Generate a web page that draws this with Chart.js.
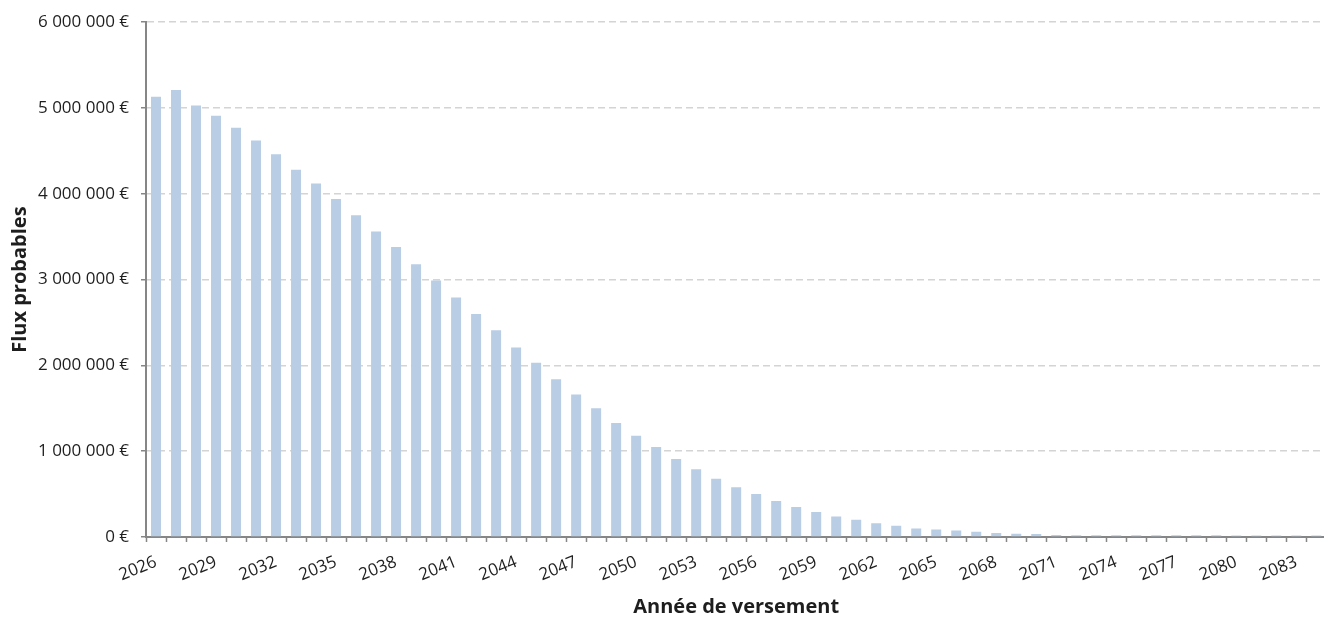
<!DOCTYPE html>
<html><head><meta charset="utf-8">
<script src="https://cdn.jsdelivr.net/npm/chart.js@4"></script>
<style>html,body{margin:0;padding:0;overflow:hidden;background:#fff;width:1324px;height:617px}canvas{display:block}</style>
</head><body>
<canvas id="c" width="1334" height="617"></canvas>
<script>
const years = ['2026','2027','2028','2029','2030','2031','2032','2033','2034','2035',
  '2036','2037','2038','2039','2040','2041','2042','2043','2044','2045',
  '2046','2047','2048','2049','2050','2051','2052','2053','2054','2055',
  '2056','2057','2058','2059','2060','2061','2062','2063','2064','2065',
  '2066','2067','2068','2069','2070','2071','2072','2073','2074','2075',
  '2076','2077','2078','2079','2080','2081','2082','2083','2084'];
const flux = [5130000,5210000,5030000,4910000,4770000,4620000,4460000,4280000,4120000,3940000,
  3750000,3560000,3380000,3180000,2990000,2790000,2600000,2410000,2210000,2030000,
  1840000,1660000,1500000,1330000,1180000,1050000,910000,790000,680000,580000,
  500000,420000,350000,290000,240000,200000,160000,130000,100000,88000,
  75000,60000,48000,37000,36000,22000,21000,21000,20000,20000,
  20000,19000,19000,19000,18000,18000,18000,17000,17000];
const yTicks = [0,1000000,2000000,3000000,4000000,5000000,6000000];
const yAxisTitle = 'Flux probables';
const xAxisTitle = 'Année de versement';

function fmtEuro(v){
  return String(v).replace(/\B(?=(\d{3})+(?!\d))/g,' ') + ' €';
}
Chart.defaults.font.family = "'Open Sans', 'Liberation Sans', sans-serif";
Chart.defaults.color = '#1e1e1e';

new Chart(document.getElementById('c'), {
  type: 'bar',
  data: {
    labels: years,
    datasets: [{
      data: flux,
      backgroundColor: '#b9cde5',
      borderWidth: 0,
      barPercentage: 0.5,
      categoryPercentage: 1.0
    }]
  },
  options: {
    responsive: false,
    devicePixelRatio: 1,
    animation: false,
    layout: { padding: { top: 21, right: 2, left: 0, bottom: 0 } },
    plugins: { legend: { display: false }, tooltip: { enabled: false } },
    scales: {
      x: {
        type: 'category',
        offset: true,
        grid: { drawOnChartArea: false, drawTicks: true, tickLength: 5, tickColor: '#868686', tickWidth: 1.5, offset: true },
        border: { color: '#868686', width: 2 },
        ticks: {
          autoSkip: false, maxRotation: 22, minRotation: 22, padding: 10,
          font: { size: 17 }, color: '#1e1e1e',
          callback: function(v, i){ return i % 3 === 0 ? years[i] : ''; }
        },
        title: { display: true, text: xAxisTitle, font: { size: 20, weight: 'bold', lineHeight: 1 }, color: '#1e1e1e', padding: { top: 0, bottom: 0 } },
        afterFit: function(s){ s.height = 80; }
      },
      y: {
        min: 0, max: 6000000,
        afterBuildTicks: function(s){ s.ticks = yTicks.map(v => ({ value: v })); },
        grid: {
          color: function(ctx){ return (ctx.tick && ctx.tick.value === 0) ? 'rgba(0,0,0,0)' : '#d4d4d4'; },
          lineWidth: 1.5, drawTicks: true, tickLength: 5, tickColor: '#868686', tickWidth: 1.5
        },
        border: { color: '#868686', width: 2, dash: [7, 4] },
        ticks: { padding: 12, font: { size: 17 }, color: '#1e1e1e', callback: function(v){ return fmtEuro(v); } },
        title: { display: true, text: yAxisTitle, font: { size: 20, weight: 'bold', lineHeight: 1 }, color: '#1e1e1e', padding: { top: 10, bottom: 0 } },
        afterFit: function(s){ s.width = 146; }
      }
    }
  }
});
</script>
</body></html>
